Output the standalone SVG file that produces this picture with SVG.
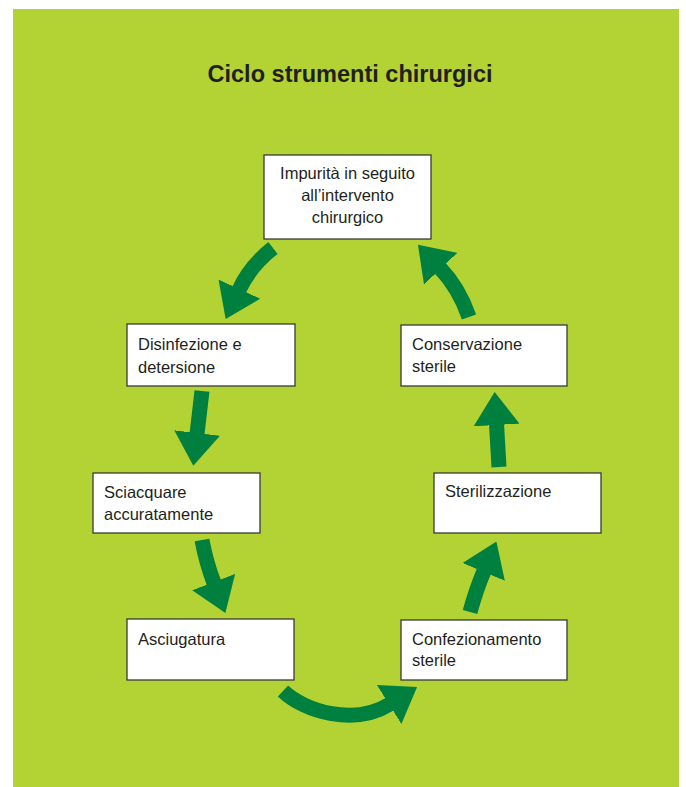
<svg xmlns="http://www.w3.org/2000/svg" width="686" height="787" viewBox="0 0 686 787">
  <style>
    .bg { fill: #b3d334; }
    .box { fill: #ffffff; stroke: #3a3a3a; stroke-width: 1.3; }
    .lbl { font-family: "Liberation Sans", Arial, sans-serif; font-size: 16.5px; fill: #231f20; }
    .title { font-family: "Liberation Sans", Arial, sans-serif; font-size: 24px; font-weight: bold; fill: #231f20; }
    .shaft { fill: none; stroke: #00803e; stroke-width: 15; stroke-linecap: butt; }
  </style>
  <defs>
    <marker id="head" markerUnits="userSpaceOnUse" markerWidth="33" markerHeight="46" viewBox="0 0 33 46" refX="1" refY="23" orient="auto">
      <path d="M0,0 L33,23 L0,46 Z" fill="#00803e"/>
    </marker>
  </defs>

  <rect class="bg" x="13" y="9" width="666" height="778"/>
  <text class="title" x="350" y="82" text-anchor="middle" textLength="285" lengthAdjust="spacingAndGlyphs">Ciclo strumenti chirurgici</text>

  <g id="connectors">
    <path class="shaft" d="M273,248 Q250,266 239,290" marker-end="url(#head)"/>
    <path class="shaft" d="M202,391 L197,434" marker-end="url(#head)"/>
    <path class="shaft" d="M202,540 Q206,562 214,583" marker-end="url(#head)"/>
    <path class="shaft" d="M283,691 C305,712 355,726 390,704" marker-end="url(#head)"/>
    <path class="shaft" d="M470,612 Q476,590 484,571" marker-end="url(#head)"/>
    <path class="shaft" d="M499,467 L496.5,424" marker-end="url(#head)"/>
    <path class="shaft" d="M469,317 Q459,288 440,268" marker-end="url(#head)"/>
  </g>

  <g id="impurita">
    <rect class="box" x="264" y="155" width="167" height="84"/>
    <text class="lbl" x="347.5" y="179" text-anchor="middle">Impurità in seguito</text>
    <text class="lbl" x="347.5" y="201" text-anchor="middle">all’intervento</text>
    <text class="lbl" x="347.5" y="223" text-anchor="middle">chirurgico</text>
  </g>

  <g id="disinfezione">
    <rect class="box" x="127" y="324" width="168" height="62"/>
    <text class="lbl" x="138" y="350">Disinfezione e</text>
    <text class="lbl" x="138" y="373">detersione</text>
  </g>

  <g id="sciacquare">
    <rect class="box" x="93" y="473" width="167" height="60"/>
    <text class="lbl" x="104" y="498">Sciacquare</text>
    <text class="lbl" x="104" y="520">accuratamente</text>
  </g>

  <g id="asciugatura">
    <rect class="box" x="127" y="619" width="167" height="61"/>
    <text class="lbl" x="138" y="645">Asciugatura</text>
  </g>

  <g id="confezionamento">
    <rect class="box" x="401" y="620" width="166" height="60"/>
    <text class="lbl" x="412" y="645">Confezionamento</text>
    <text class="lbl" x="412" y="666">sterile</text>
  </g>

  <g id="sterilizzazione">
    <rect class="box" x="434" y="473" width="167" height="60"/>
    <text class="lbl" x="445" y="497">Sterilizzazione</text>
  </g>

  <g id="conservazione">
    <rect class="box" x="401" y="325" width="166" height="61"/>
    <text class="lbl" x="412" y="350">Conservazione</text>
    <text class="lbl" x="412" y="372">sterile</text>
  </g>
</svg>
